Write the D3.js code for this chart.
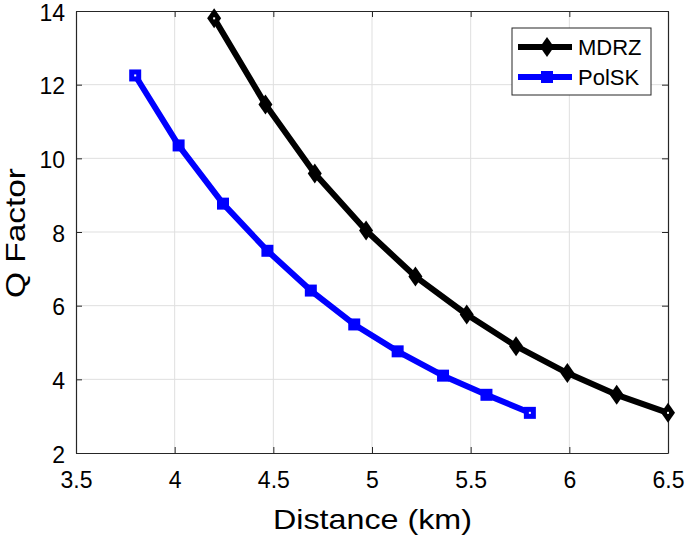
<!DOCTYPE html>
<html><head><meta charset="utf-8">
<script src="https://cdn.jsdelivr.net/npm/d3@7"></script>
<style>body{margin:0;background:#fff}svg{display:block}text{font-family:"Liberation Sans",Arial,sans-serif;fill:#000}</style>
</head><body><svg id="c" width="685" height="538"></svg>
<script>
const xTicks = [3.5, 4, 4.5, 5, 5.5, 6, 6.5];
const yTicks = [2, 4, 6, 8, 10, 12, 14];
const mdrzX = [4.2, 4.46, 4.71, 4.97, 5.22, 5.48, 5.73, 5.99, 6.24, 6.5];
const mdrzY = [13.8, 11.46, 9.59, 8.04, 6.79, 5.76, 4.90, 4.17, 3.58, 3.09];
const polskX = [3.8, 4.02, 4.245, 4.47, 4.69, 4.91, 5.13, 5.36, 5.58, 5.8];
const polskY = [12.25, 10.35, 8.77, 7.49, 6.41, 5.49, 4.76, 4.10, 3.58, 3.09];
const seriesNames = ["MDRZ", "PolSK"];
const seriesColors = ["#000000", "#0000ff"];

const svg = d3.select("#c");
const L = 76, R = 668, T = 11, B = 453;
const x = d3.scaleLinear().domain([3.5, 6.5]).range([L, R]);
const y = d3.scaleLinear().domain([2, 14]).range([B, T]);
const axisCol = "#262626";

// grid
svg.append("g").selectAll("line").data(xTicks.slice(1, -1)).join("line")
  .attr("x1", d => x(d)).attr("x2", d => x(d)).attr("y1", T).attr("y2", B)
  .attr("stroke", "#dfdfdf").attr("stroke-width", 1);
svg.append("g").selectAll("line").data(yTicks.slice(1, -1)).join("line")
  .attr("y1", d => y(d)).attr("y2", d => y(d)).attr("x1", L).attr("x2", R)
  .attr("stroke", "#dfdfdf").attr("stroke-width", 1);

// axes
const fmt = d3.format("");
function styleAxis(g) {
  g.select(".domain").attr("stroke", axisCol).attr("stroke-width", 1.2);
  g.selectAll(".tick line").attr("stroke", axisCol).attr("stroke-width", 1);
  g.selectAll("text").style("font-size", "23px").attr("fill", "#000");
}
svg.append("g").attr("transform", `translate(0,${B})`)
  .call(d3.axisBottom(x).tickValues(xTicks).tickFormat(fmt).tickSizeInner(-6).tickSizeOuter(0).tickPadding(19))
  .call(styleAxis);
svg.append("g").attr("transform", `translate(0,${T})`)
  .call(d3.axisTop(x).tickValues(xTicks).tickFormat("").tickSizeInner(-6).tickSizeOuter(0))
  .call(styleAxis);
svg.append("g").attr("transform", `translate(${L},0)`)
  .call(d3.axisLeft(y).tickValues(yTicks).tickFormat(fmt).tickSizeInner(-6).tickSizeOuter(0).tickPadding(11))
  .call(styleAxis)
  .call(g => g.selectAll(".tick text").attr("dy", "0.4em"));
svg.append("g").attr("transform", `translate(${R},0)`)
  .call(d3.axisRight(y).tickValues(yTicks).tickFormat("").tickSizeInner(-6).tickSizeOuter(0))
  .call(styleAxis);

// labels
svg.append("text").attr("x", 273).attr("y", 529)
  .attr("textLength", 199).attr("lengthAdjust", "spacingAndGlyphs")
  .style("font-size", "28px").text("Distance (km)");
svg.append("text").attr("transform", `translate(25,298) rotate(-90)`)
  .attr("textLength", 130).attr("lengthAdjust", "spacingAndGlyphs")
  .style("font-size", "28px").text("Q Factor");

// series
const line = d3.line().x(d => x(d[0])).y(d => y(d[1]));
const series = [
  {name: seriesNames[0], color: seriesColors[0], pts: mdrzX.map((v, i) => [v, mdrzY[i]]), shape: "diamond"},
  {name: seriesNames[1], color: seriesColors[1], pts: polskX.map((v, i) => [v, polskY[i]]), shape: "square"}
];
const diamond = "M0,-10L7,0L0,10L-7,0Z";
const square = "M-6,-6H6V6H-6Z";
series.forEach(s => {
  svg.append("path").datum(s.pts).attr("d", line).attr("fill", "none")
    .attr("stroke", s.color).attr("stroke-width", 6).attr("stroke-linejoin", "round");
  svg.append("g").selectAll("path").data(s.pts).join("path")
    .attr("transform", d => `translate(${x(d[0])},${y(d[1])})`)
    .attr("d", s.shape === "diamond" ? diamond : square).attr("fill", s.color);
  const ends = [s.pts[0], s.pts[s.pts.length - 1]];
  svg.append("g").selectAll("rect").data(ends).join("rect")
    .attr("x", d => x(d[0]) - 1).attr("y", d => y(d[1]) - 1).attr("width", 2).attr("height", 2).attr("fill", "#fff");
});

// legend
const lg = svg.append("g");
lg.append("rect").attr("x", 512).attr("y", 28).attr("width", 139).attr("height", 67)
  .attr("fill", "#fff").attr("stroke", axisCol).attr("stroke-width", 1);
series.forEach((s, i) => {
  const cy = 47 + i * 30;
  lg.append("line").attr("x1", 518).attr("x2", 572).attr("y1", cy).attr("y2", cy)
    .attr("stroke", s.color).attr("stroke-width", 6);
  lg.append("path").attr("transform", `translate(547,${cy})`)
    .attr("d", s.shape === "diamond" ? diamond : square).attr("fill", s.color);
  lg.append("text").attr("x", 578).attr("y", cy + 8).style("font-size", "22px").text(s.name);
});
</script></body></html>
